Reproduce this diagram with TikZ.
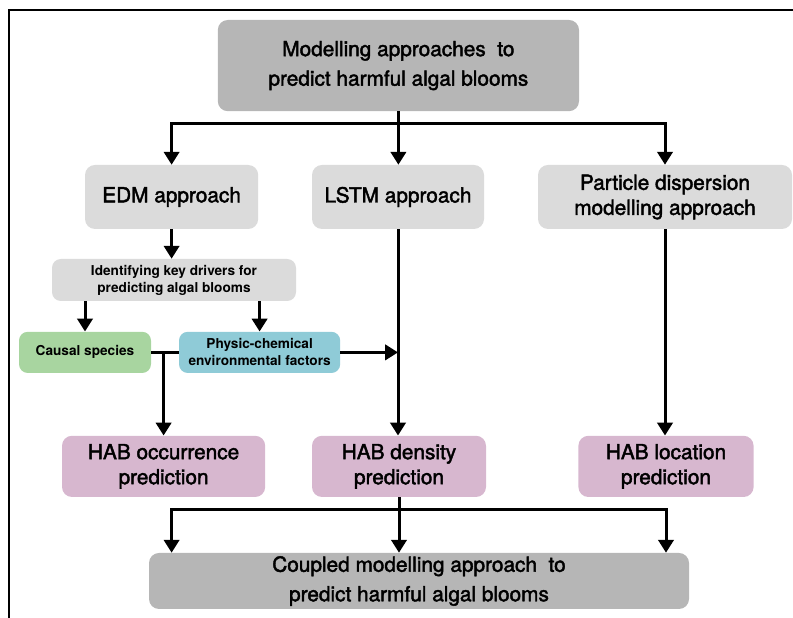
\documentclass[tikz,border=0pt]{standalone}
\usepackage{fontspec}
\setmainfont{TeX Gyre Heros}
\newfontfamily\medfont[FakeBold=2]{TeX Gyre Heros}
\usetikzlibrary{arrows.meta}
\definecolor{boxdark}{HTML}{B6B6B6}
\definecolor{boxlight}{HTML}{DBDBDB}
\definecolor{boxgreen}{HTML}{A8D5A0}
\definecolor{boxblue}{HTML}{8FCBD7}
\definecolor{boxpink}{HTML}{D7B7CF}

\begin{document}
\begin{tikzpicture}[
  box/.style={rounded corners=0.25cm, align=center, inner sep=2pt, font=\medfont\fontsize{14.8}{17.8}\selectfont},
  bigbox/.style={box, font=\medfont\fontsize{14.8}{21}\selectfont},
  small/.style={rounded corners=0.22cm, align=center, inner sep=2pt, font=\bfseries\fontsize{9.7}{12.1}\selectfont},
  arr/.style={line width=0.075cm, -{Triangle[width=0.38cm,length=0.32cm]}},
  link/.style={line width=0.075cm}]
  \clip (0,0) rectangle (19.825,15.45);
  \draw[line width=0.05cm] (19.9,15.2) -- (0.225,15.2) -- (0.225,-0.1);
  \node[bigbox, fill=boxdark, minimum width=9.03cm, minimum height=2.28cm] (top) at (9.96,13.81) {Modelling approaches\ \ to\\predict harmful algal blooms};
  \node[box, fill=boxlight, minimum width=4.33cm, minimum height=1.6cm] (edm) at (4.29,10.525) {EDM approach};
  \node[box, fill=boxlight, minimum width=4.3cm, minimum height=1.6cm] (lstm) at (9.95,10.525) {LSTM approach};
  \node[box, fill=boxlight, minimum width=6.35cm, minimum height=1.6cm] (particle) at (16.625,10.525) {Particle dispersion\\modelling approach};
  \node[small, fill=boxlight, minimum width=6.1cm, minimum height=1.05cm] (drivers) at (4.35,8.45) {Identifying key drivers for\\predicting algal blooms};
  \node[small, fill=boxgreen, minimum width=3.3cm, minimum height=1.03cm] (causal) at (2.125,6.64) {Causal species};
  \node[small, fill=boxblue, minimum width=4.03cm, minimum height=1.03cm] (physic) at (6.49,6.64) {Physic-chemical\\environmental factors};
  \node[box, fill=boxpink, minimum width=5.08cm, minimum height=1.53cm] (occ) at (4.09,3.79) {HAB occurrence\\prediction};
  \node[box, fill=boxpink, minimum width=4.35cm, minimum height=1.53cm] (dens) at (9.975,3.79) {HAB density\\prediction};
  \node[box, fill=boxpink, minimum width=4.38cm, minimum height=1.53cm] (loc) at (16.65,3.79) {HAB location\\prediction};
  \node[bigbox, fill=boxdark, minimum width=13.5cm, minimum height=1.4cm] (coupled) at (10.475,0.925) {Coupled modelling approach\ \ to\\predict harmful algal blooms};
  \draw[arr] (top.south) -- (top.south |- lstm.north);
  \draw[arr] (top.south) -- ++(0,-0.3) -| (edm.north);
  \draw[arr] (top.south) -- ++(0,-0.3) -| (particle.north);
  \draw[arr] (edm.south) -- (edm.south |- drivers.north);
  \draw[arr] (drivers.south -| causal.north) -- (causal.north);
  \draw[arr] (drivers.south -| physic.north) -- (physic.north);
  \draw[link] (causal.east) -- (physic.west);
  \draw[arr] (causal.east -| occ.north) -- (occ.north);
  \draw[arr] (physic.east) -- (physic.east -| lstm.south);
  \draw[arr] (lstm.south) -- (lstm.south |- dens.north);
  \draw[arr] (particle.south) -- (particle.south |- loc.north);
  \draw[arr] (dens.south) -- (dens.south |- coupled.north);
  \draw[arr] (dens.south) -- ++(0,-0.3) -| (edm.south |- coupled.north);
  \draw[arr] (dens.south) -- ++(0,-0.3) -| (loc.south |- coupled.north);
\end{tikzpicture}
\end{document}
